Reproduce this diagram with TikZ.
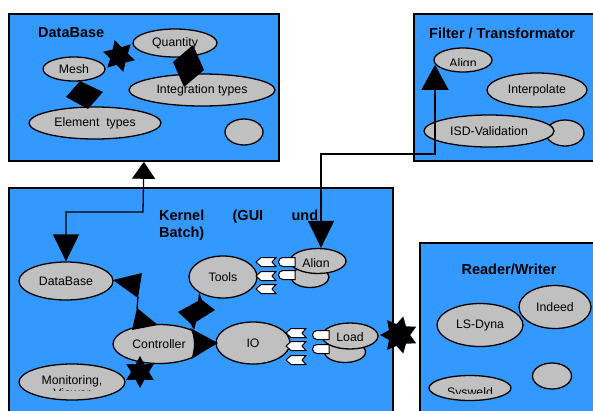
\documentclass[tikz,border=0pt]{standalone}
\usepackage{fontspec}
\setmainfont{Liberation Sans}
\usetikzlibrary{shapes.geometric,arrows.meta}
\definecolor{boxblue}{RGB}{51,153,255}
\definecolor{elgray}{RGB}{192,192,192}
\newcommand\chevport[2]{\draw[port] (#1,#2) -- ++(5,-4.5) -- ++(15,0) -- ++(-4,4.5) -- ++(4,4.5) -- ++(-15,0) -- cycle;}
\newcommand\roundport[2]{\draw[port] (#1+17,#2-4.5) -- ++(-12,0) arc[start angle=270,end angle=90,radius=4.5] -- ++(12,0) -- cycle;}
\begin{document}
\begin{tikzpicture}[x=1pt,y=-1pt,
  panel/.style={rectangle,draw=black,line width=1.8pt,fill=boxblue,anchor=north west,inner sep=0pt},
  ell/.style={ellipse,draw=black,line width=1.3pt,fill=elgray,inner sep=0pt,font=\fontsize{12.3}{14}\selectfont},
  lbl/.style={inner sep=0pt,font=\fontsize{12.3}{14}\selectfont},
  title/.style={inner sep=0pt,font=\bfseries\fontsize{14.5}{17}\selectfont},
  conn/.style={line width=1.3pt},
  blob/.style={fill=black},
  starblob/.style={star,fill=black,inner sep=0pt},
  port/.style={draw=black,fill=white,line width=1pt}]
\clip (0,0) rectangle (593,410);
\fill[white] (0,0) rectangle (593,410);

% panels
\node[panel,minimum width=270pt,minimum height=147pt] (dbbox) at (8,13) {};
\node[panel,minimum width=184pt,minimum height=147pt] (ftbox) at (413,13) {};
\node[panel,minimum width=384pt,minimum height=230pt] (kbox) at (8,187) {};
\node[panel,minimum width=180pt,minimum height=175pt] (rwbox) at (419,242) {};

% titles
\node[title,anchor=west] (tdb) at (38,33) {DataBase};
\node[title,anchor=west] (tft) at (429,33) {Filter / Transformator};
\node[title,anchor=base west] (tk1) at (159,220) {\hbox to 159pt{Kernel\hfill(GUI\hfill und}};
\node[title,anchor=base west] (tk2) at (159,237) {Batch)};
\node[title] (trw) at (509,269) {Reader/Writer};

% DataBase ellipses
\node[ell,minimum width=84pt,minimum height=28pt] (quant) at (175,43) {Quantity};
\node[ell,minimum width=62pt,minimum height=24pt] (mesh) at (74,69) {Mesh};
\node[ell,minimum width=146pt,minimum height=32pt] (integ) at (202,90) {Integration types};
\node[ell,minimum width=132pt,minimum height=32pt] (elem) at (95,123) {Element\ \ types};
\node[ell,minimum width=38pt,minimum height=26pt] (dbsmall) at (244,132) {};

% Filter ellipses
\node[ell,minimum width=58pt,minimum height=24pt] (falign) at (463,60) {};
\begin{scope}\clip (440,50) rectangle (490,65.7);
\node[lbl,anchor=base] (falignt) at (463,67.5) {Align};
\end{scope}
\node[ell,minimum width=100pt,minimum height=34pt] (interp) at (537,90) {Interpolate};
\node[ell,minimum width=38pt,minimum height=26pt] (ftsmall) at (565,133) {};
\node[ell,minimum width=130pt,minimum height=32pt] (isd) at (489,131) {ISD-Validation};

% Kernel ellipses
\node[ell,minimum width=94pt,minimum height=38pt] (kdb) at (66,281) {DataBase};
\node[ell,minimum width=68pt,minimum height=42pt] (tools) at (223,277) {Tools};
\node[ell,minimum width=92pt,minimum height=39pt] (ctrl) at (159,344) {Controller};
\node[ell,minimum width=74pt,minimum height=42pt] (io) at (253,343) {IO};
\node[ell,minimum width=106pt,minimum height=36pt] (mon) at (72,382) {};
\begin{scope}\clip (20,365) rectangle (124,390);
\node[lbl,anchor=base] (mont1) at (72,384) {Monitoring,};
\node[lbl,anchor=base] (mont2) at (72,397.5) {Viewer};
\end{scope}
\node[ell,minimum width=38pt,minimum height=21pt] (kalignb) at (310,277) {};
\node[ell,minimum width=56pt,minimum height=25pt] (kalign) at (318,261) {};
\begin{scope}\clip (295,250) rectangle (340,266.5);
\node[lbl,anchor=base] (kalignt) at (316,267.5) {Align};
\end{scope}
\node[ell,minimum width=41pt,minimum height=21pt] (loadb) at (345,352) {};
\node[ell,minimum width=56pt,minimum height=26pt] (load) at (350,336) {};
\begin{scope}\clip (325,325) rectangle (375,340.5);
\node[lbl,anchor=base] (loadt) at (350,341.5) {Load};
\end{scope}

% Reader/Writer ellipses
\node[ell,minimum width=86pt,minimum height=43pt] (lsdyna) at (480,325) {LS-Dyna};
\node[ell,minimum width=72pt,minimum height=43pt] (indeed) at (555,307) {Indeed};
\node[ell,minimum width=39pt,minimum height=26pt] (rwsmall) at (552,376) {};
\node[ell,minimum width=82pt,minimum height=25pt] (sysweld) at (470,388) {};
\begin{scope}\clip (440,380) rectangle (500,393.5);
\node[lbl,anchor=base] (sysweldt) at (470,396) {Sysweld};
\end{scope}

% ports
\chevport{256}{262}
\chevport{256}{276}
\chevport{256}{289}
\roundport{278}{262}
\roundport{278}{275}
\chevport{286}{333}
\chevport{286}{346}
\chevport{286}{360}
\roundport{312}{335}
\roundport{312}{349}

% connectors with big triangles
\coordinate (k1) at (143,212);
\coordinate (k2) at (66,212);
\draw[conn,{Triangle[length=17pt,width=23pt]}-{Triangle[length=27pt,width=26pt]}]
  (dbbox.south) -- (k1) -- (k2) -- (kdb.north);
\coordinate (c1) at (435,154);
\coordinate (c0) at (321,154);
\draw[conn,{Triangle[length=27pt,width=26pt]}-{Triangle[length=25pt,width=27pt]}]
  (kalign.north -| c0) -- (c0) -- (c1) -- (c1 |- falign.190);

% odd connector shapes (DataBase panel)
\node[starblob,star points=6,star point ratio=1.8,minimum size=33pt,rotate=15] (s1) at (119,56) {};
\fill[blob] (193,45) -- (204,70) -- (184,87) -- (173,62) -- cycle;
\fill[blob] (80,81) -- (103,92) -- (88,109) -- (66,97) -- cycle;

% Kernel connector shapes
\fill[blob] (113,280) -- (142,273) -- (138,298) -- cycle;
\draw[conn] (138,297) -- (137,309);
\fill[blob] (137,308) -- (158,325) -- (132,330) -- cycle;
\fill[blob] (199,292) -- (202,300) -- (215,310) -- (196,322) -- (194,330) -- (190,323) -- (178,312) -- (198,301) -- cycle;
\fill[blob] (190,328) -- (218,343) -- (191,359) .. controls (195,350) and (195,336) .. (190,328);
\node[starblob,star points=6,star point ratio=1.8,minimum size=32pt] (s2) at (140,372) {};
\node[starblob,star points=7,star point ratio=1.7,minimum size=38pt,rotate=90] (s3) at (399,335) {};
\end{tikzpicture}
\end{document}
